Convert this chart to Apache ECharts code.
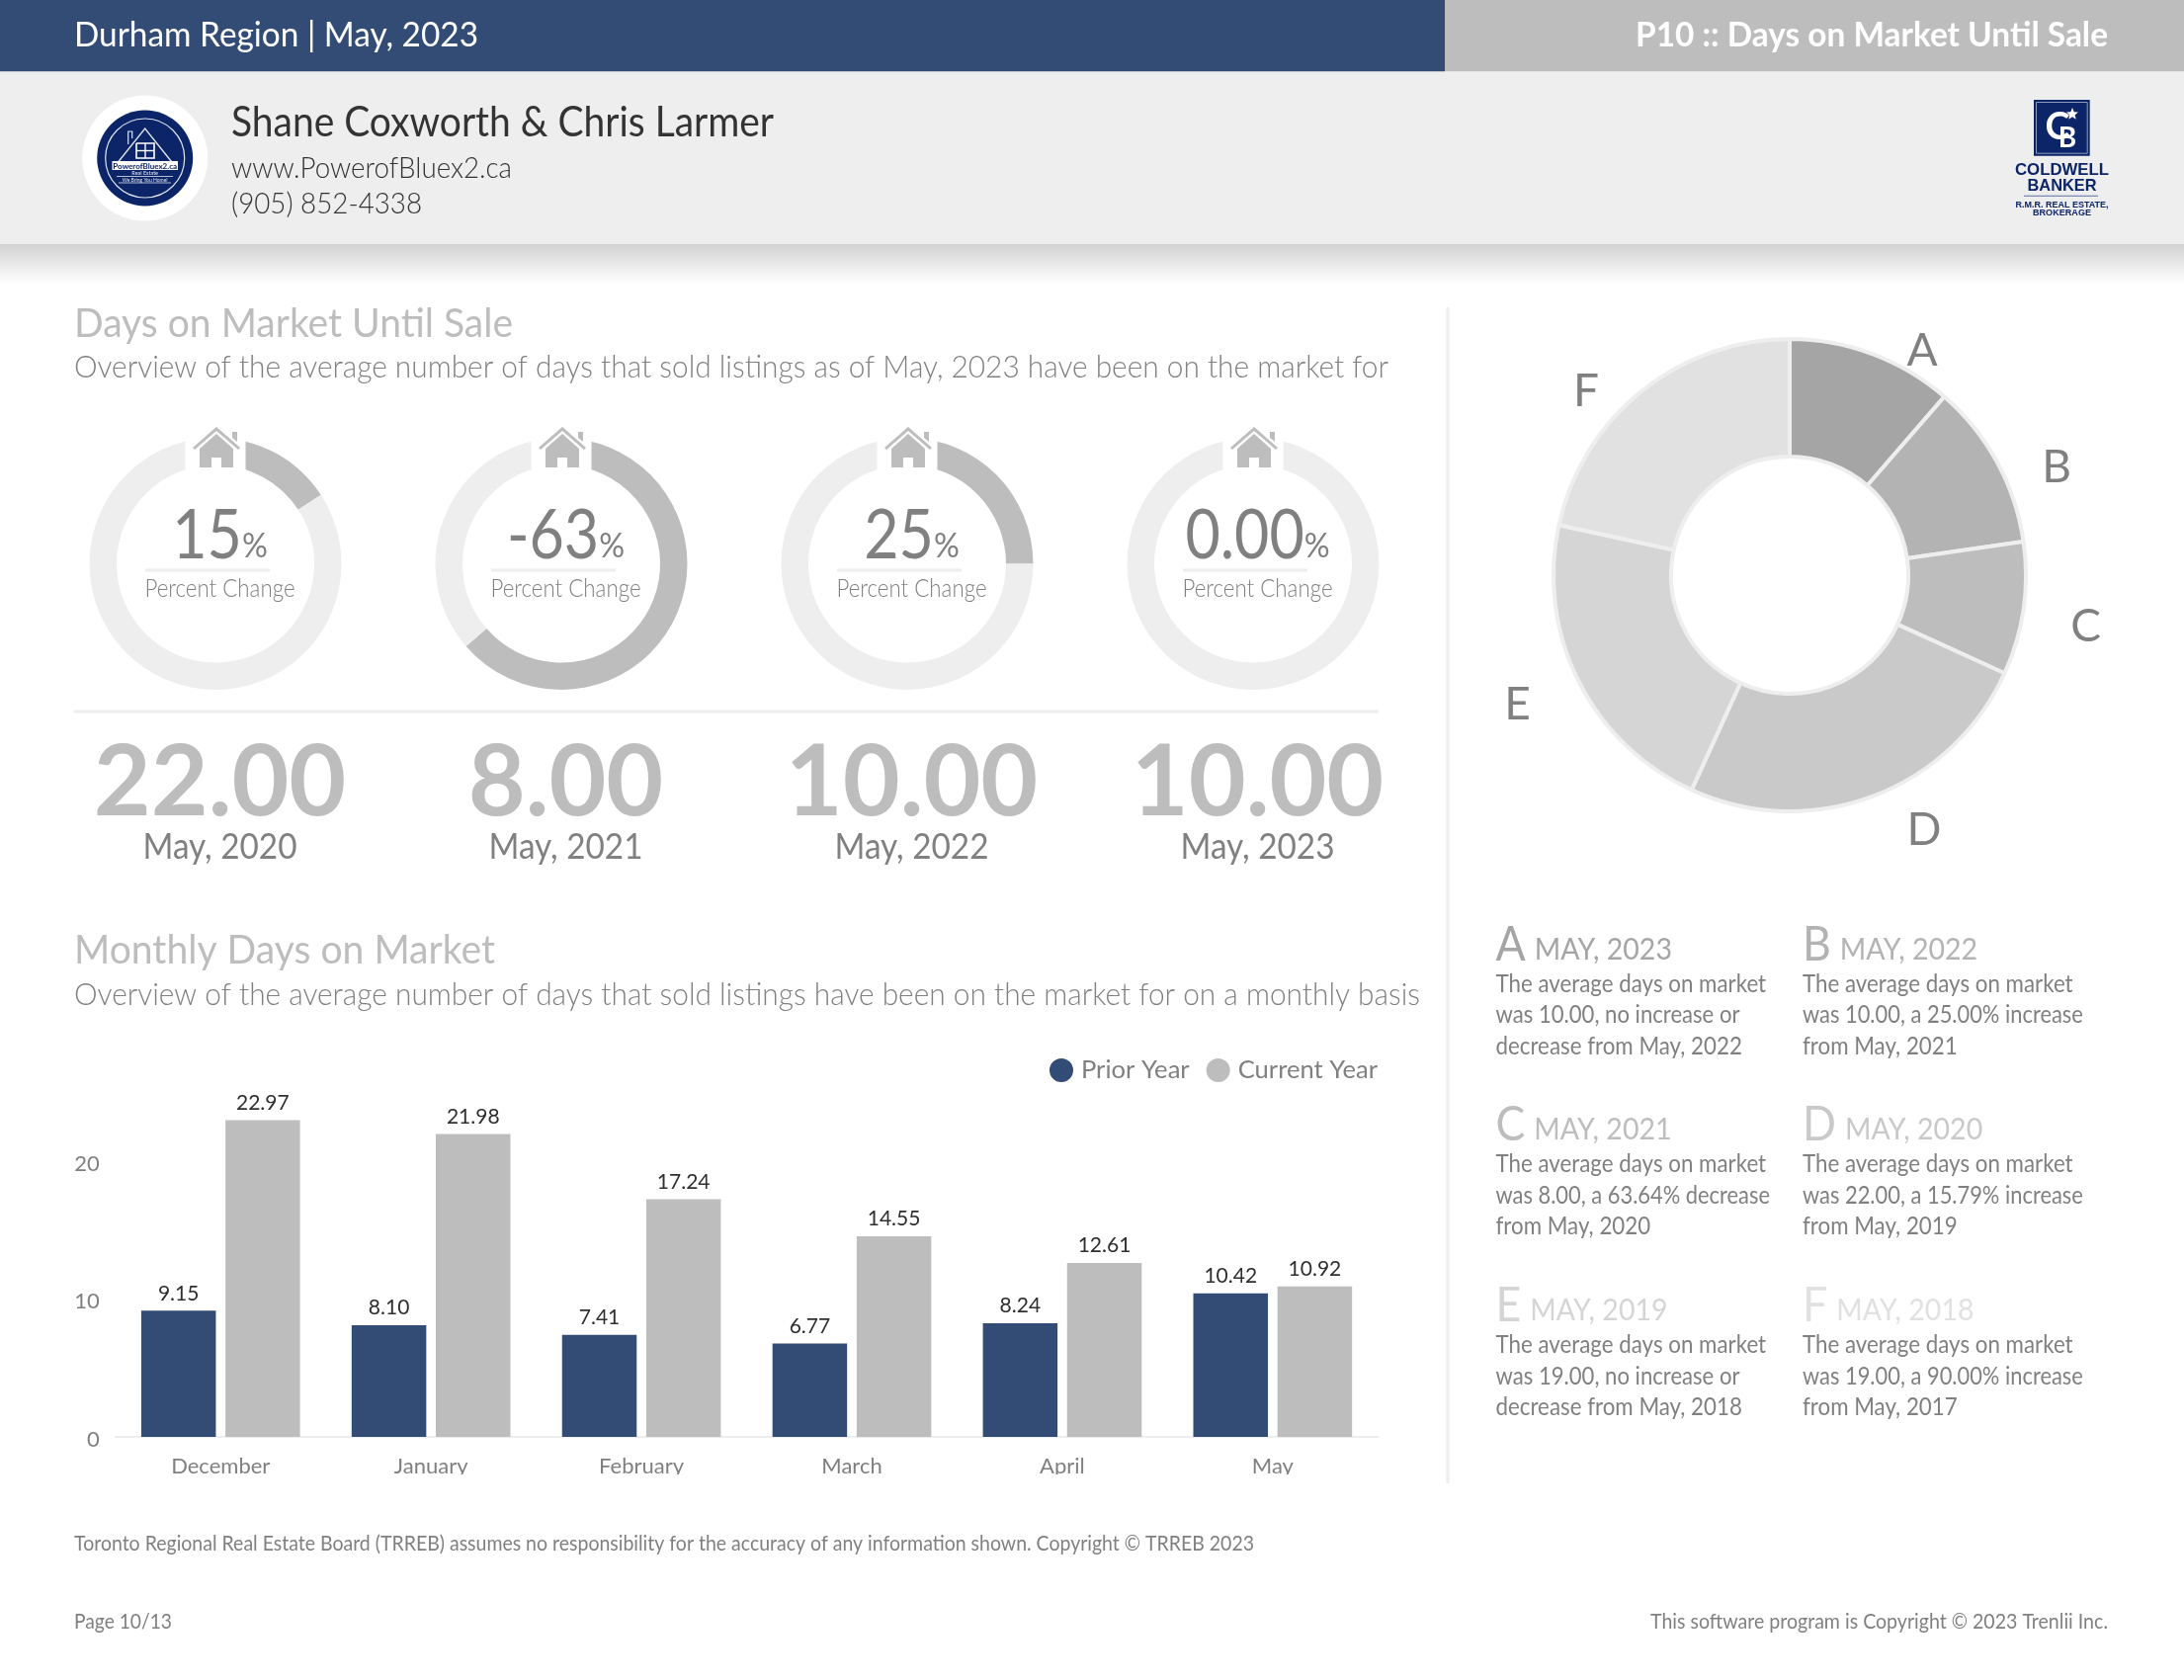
<!DOCTYPE html>
<html><head><meta charset="utf-8">
<style>html,body{margin:0;padding:0;background:#fff}#c{width:2210px;height:1700px}</style>
<script src="https://cdn.jsdelivr.net/npm/echarts@6/dist/echarts.min.js"></script></head>
<body><div id="c"></div>
<script>
// ---- data ----
const months = ['December','January','February','March','April','May'];
const priorYear = [9.15,8.10,7.41,6.77,8.24,10.42];
const currentYear = [22.97,21.98,17.24,14.55,12.61,10.92];
const pieNames = ['A','B','C','D','E','F'];
const pieValues = [10,10,8,22,19,19];
const pieColors = ['#a5a5a5','#b3b3b3','#bdbdbd','#c9c9c9','#d5d5d5','#e1e1e1'];
const gaugePercent = [15.79,63.64,25,0];
const gaugeLabels = ['15','-63','25','0.00'];
const yearValues = ['22.00','8.00','10.00','10.00'];
const yearLabels = ['May, 2020','May, 2021','May, 2022','May, 2023'];
const noteHeads = ['MAY, 2023','MAY, 2022','MAY, 2021','MAY, 2020','MAY, 2019','MAY, 2018'];
const noteLines = [
 ['The average days on market','was 10.00, no increase or','decrease from May, 2022'],
 ['The average days on market','was 10.00, a 25.00% increase','from May, 2021'],
 ['The average days on market','was 8.00, a 63.64% decrease','from May, 2020'],
 ['The average days on market','was 22.00, a 15.79% increase','from May, 2019'],
 ['The average days on market','was 19.00, no increase or','decrease from May, 2018'],
 ['The average days on market','was 19.00, a 90.00% increase','from May, 2017']
];
// ---- helpers ----
const BLUE='#324c75', GREY='#bdbdbd', PALE='#eeeeee', TXT='#808080', NAVY='#0c2468';
const FONT='Lato';
const mctx=document.createElement('canvas').getContext('2d');
function tw(s,size,weight,f){mctx.font=(weight||400)+' '+size+'px '+(f||FONT);return mctx.measureText(s).width;}
const g=[];
function T(x,base,s,size,color,o){o=o||{};
  const k=o.fit?o.fit/tw(s,size,o.w,o.f):(o.k||1);
  g.push({type:'text',z:o.z||50,x:x,y:base-0.28*size,silent:true,scaleX:k,
    style:{text:s,fill:color,font:(o.w||400)+' '+size+'px '+(o.f||FONT),align:o.a||'left',verticalAlign:'middle'}});}
function R(x,y,w,h,fill,z){g.push({type:'rect',z:z===undefined?1:z,silent:true,shape:{x:x,y:y,width:w,height:h},style:{fill:fill}});}
function C(cx,cy,r,fill,z,stroke,lw){g.push({type:'circle',z:z||40,silent:true,shape:{cx:cx,cy:cy,r:r},style:{fill:fill,stroke:stroke||null,lineWidth:lw||0}});}
function PG(x,y,pts,fill,z){g.push({type:'polygon',z:z||60,silent:true,x:x,y:y,shape:{points:pts},style:{fill:fill}});}
function PL(x,y,pts,stroke,lw,z){g.push({type:'polyline',z:z||60,silent:true,x:x,y:y,shape:{points:pts},style:{fill:null,stroke:stroke,lineWidth:lw}});}
// ---- page furniture ----
R(0,0,1462,72.5,BLUE); R(1462,0,748,72.5,GREY); R(0,72.5,2210,175,PALE);
g.push({type:'rect',z:1,silent:true,shape:{x:0,y:247,width:2210,height:40},style:{fill:new echarts.graphic.LinearGradient(0,0,0,1,[{offset:0,color:'#d2d2d2'},{offset:1,color:'#ffffff'}])}});
T(75,46,'Durham Region | May, 2023',35,'#ffffff',{fit:409});
T(2133,46,'P10 :: Days on Market Until Sale',35,'#ffffff',{w:700,a:'right',fit:478});
T(234,136.5,'Shane Coxworth & Chris Larmer',42,'#333333',{fit:549});
T(234,178.5,'www.PowerofBluex2.ca',30,'#333333',{w:300,fit:284});
T(234,215,'(905) 852-4338',30,'#333333',{w:300,fit:193});
// round logo
C(146.7,160,63.5,'#ffffff',10); C(146.7,160,48.5,NAVY,11); C(146.7,160,40,null,12,'#dfe4f0',1.2);
PL(146.7,130,[[-17,16],[-17,3],[-13,3],[-13,10]],'#dfe4f0',1.2,13);
PL(146.7,130,[[-28,35],[0,0],[28,35]],'#dfe4f0',1.4,13);
PL(138,145,[[0,0],[18,0],[18,15],[0,15],[0,0]],'#ffffff',1.6,13);
PL(147,145,[[0,0],[0,15]],'#ffffff',1.4,13); PL(138,152.5,[[0,0],[18,0]],'#ffffff',1.4,13);
R(113.5,163,66.5,9,'#ffffff',13);
T(146.7,170.2,'PowerofBluex2.ca',8,NAVY,{a:'center',w:700,z:14});
T(146.7,177,'Real Estate',5.5,'#dfe4f0',{a:'center',z:14});
PL(118,178.5,[[0,0],[57,0]],'#dfe4f0',0.8,13);
T(146.7,183.5,'We Bring You Home!',5,'#dfe4f0',{a:'center',z:14});
PL(120,185,[[0,0],[53,0]],'#dfe4f0',0.8,13);
// CB logo
R(2058,101,56.7,56.7,NAVY,10);
g.push({type:'rect',z:11,silent:true,shape:{x:2060.5,y:103.5,width:51.7,height:51.7},style:{fill:null,stroke:'#8d9bc0',lineWidth:1}});
T(2082,139,'C',38,'#ffffff',{w:700,a:'center',z:12}); T(2092,148,'B',28,'#ffffff',{w:700,a:'center',z:12});
PG(2097,109,[[0,0],[1.7,4.3],[6,4.5],[2.7,7.3],[3.7,11.7],[0,9.2],[-3.7,11.7],[-2.7,7.3],[-6,4.5],[-1.7,4.3]],'#ffffff',12);
T(2086.5,177.5,'COLDWELL',16.5,NAVY,{a:'center',w:700,f:'Liberation Sans',z:12,fit:95});
T(2086.5,193.5,'BANKER',16.5,NAVY,{a:'center',w:700,f:'Liberation Sans',z:12,fit:70});
R(2048,197.8,75,1,'#5a6fa5',12);
T(2086.5,210,'R.M.R. REAL ESTATE,',8.8,NAVY,{a:'center',w:700,f:'Liberation Sans',z:12,fit:94});
T(2086.5,218.3,'BROKERAGE',8.8,NAVY,{a:'center',w:700,f:'Liberation Sans',z:12,fit:59});
// headings
T(75,339,'Days on Market Until Sale',41,GREY,{fit:444});
T(75,381,'Overview of the average number of days that sold listings as of May, 2023 have been on the market for',32,TXT,{w:300,fit:1330});
T(75,973,'Monthly Days on Market',41,GREY,{fit:426});
T(75,1016,'Overview of the average number of days that sold listings have been on the market for on a monthly basis',32,TXT,{w:300,fit:1362});
R(75,718.5,1320,3,PALE); R(1463.5,311,3,1190,PALE);
// gauges
const gaugeCx=[218,568,918,1268], gaugeCy=570.5;
const HOUSE=[
 [[-24,21],[0,0],[24,21],[22,23],[0,4],[-22,23]],
 [[16,5],[21,5],[21,15],[16,11]],
 [[0,7],[17,22],[17,41],[5,41],[5,31],[-5,31],[-5,41],[-17,41],[-17,22]]
];
const series=[];
gaugePercent.forEach((p,i)=>{
  const cx=gaugeCx[i];
  series.push({type:'pie',silent:true,z:2,center:[cx,gaugeCy],radius:[100,127.5],startAngle:90,clockwise:true,
    label:{show:false},labelLine:{show:false},animation:false,
    data:[{value:p,itemStyle:{color:GREY}},{value:100-p,itemStyle:{color:PALE}}]});
  R(cx-30.5,435,61,41,'#ffffff',40);
  HOUSE.forEach(h=>PG(cx+1,432,h,GREY,60));
  const s=gaugeLabels[i], kn=0.87, kp=0.95, a=tw(s,70)*kn, b=tw('%',34)*kp, x0=cx+4.5-(a+b)/2;
  T(x0,562.5,s,70,TXT,{k:kn}); T(x0+a,562.5,'%',34,TXT,{k:kp});
  R(cx-71,575.5,126,3,PALE,40);
  T(cx+4.5,602.5,'Percent Change',25,TXT,{a:'center',w:300,fit:152});
  T(cx+4.5,820.5,yearValues[i],100,GREY,{a:'center',w:700,k:1});
  T(cx+4.5,867.5,yearLabels[i],36,TXT,{a:'center',fit:156});
});
// big pie
series.push({type:'pie',silent:true,z:2,animation:false,center:[1811,582],radius:[120,239],startAngle:90,clockwise:true,
  avoidLabelOverlap:false,itemStyle:{borderColor:PALE,borderWidth:4},
  label:{show:true,position:'outside',formatter:'{b}',fontFamily:FONT,fontSize:46,color:TXT,alignTo:'none'},
  labelLine:{show:false,length:20,length2:23},
  labelLayout:p=>({dy:15.5,dx:p.dataIndex>=4?-2.5:0}),
  data:pieNames.map((n,i)=>({name:n,value:pieValues[i],itemStyle:{color:pieColors[i]}}))});
// notes
const noteX=[1513.5,1824], noteY=[972.5,1155,1338];
const bodyK=273.6/tw(noteLines[0][0],25);
noteHeads.forEach((h,i)=>{
  const x=noteX[i%2], y=noteY[Math.floor(i/2)], w=tw(pieNames[i],48)*0.93+9;
  T(x,y-3,pieNames[i],48,pieColors[i],{k:0.93}); T(x+w,y-3,h,31,pieColors[i],{k:0.92});
  noteLines[i].forEach((l,k)=>T(x,y+30+k*31.5,l,25,TXT,{k:k===1?bodyK*(l.includes('%')?0.98:0.99):bodyK}));
});
// footer
T(75,1568.5,'Toronto Regional Real Estate Board (TRREB) assumes no responsibility for the accuracy of any information shown. Copyright © TRREB 2023',21,TXT,{fit:1194});
T(75,1647,'Page 10/13',21,TXT,{fit:99});
T(2133,1647,'This software program is Copyright © 2023 Trenlii Inc.',21,TXT,{a:'right',fit:463});
R(0,1492,1460,30,'#ffffff',100);
// bars
const labelStyle={show:true,position:'top',distance:7,fontFamily:FONT,fontSize:21,color:'#2f2f2f',formatter:p=>p.value.toFixed(2)};
series.push({name:'Prior Year',type:'bar',z:2,animation:false,data:priorYear,barWidth:75.5,barGap:'12.8%',itemStyle:{color:BLUE},label:labelStyle});
series.push({name:'Current Year',type:'bar',z:2,animation:false,data:currentYear,barWidth:75.5,itemStyle:{color:GREY},label:labelStyle});
const chart=echarts.init(document.getElementById('c'),null,{renderer:'canvas',width:2210,height:1700});
chart.setOption({
  animation:false,backgroundColor:'#ffffff',
  textStyle:{fontFamily:FONT},
  legend:{data:['Prior Year','Current Year'],right:816,top:1070,padding:0,icon:'circle',itemWidth:24,itemHeight:24,itemGap:17,
    selectedMode:false,textStyle:{fontFamily:FONT,fontSize:25.6,color:TXT,padding:[0,0,0,3]}},
  grid:{left:116.8,top:1035.5,width:1277.5,height:418.5,containLabel:false},
  xAxis:{type:'category',data:months,axisTick:{show:false},axisLine:{lineStyle:{color:PALE,width:2}},
    axisLabel:{fontFamily:FONT,fontSize:22,color:TXT,margin:18.5}},
  yAxis:{type:'value',min:0,max:30,interval:10,splitLine:{show:false},axisLine:{show:false},axisTick:{show:false},
    axisLabel:{margin:16,showMaxLabel:false,formatter:v=>'{a|'+v+'}',
      rich:{a:{fontFamily:FONT,fontSize:22,color:TXT,padding:[5,0,0,0]}}}},
  graphic:{elements:g},
  series:series
});
</script></body></html>
